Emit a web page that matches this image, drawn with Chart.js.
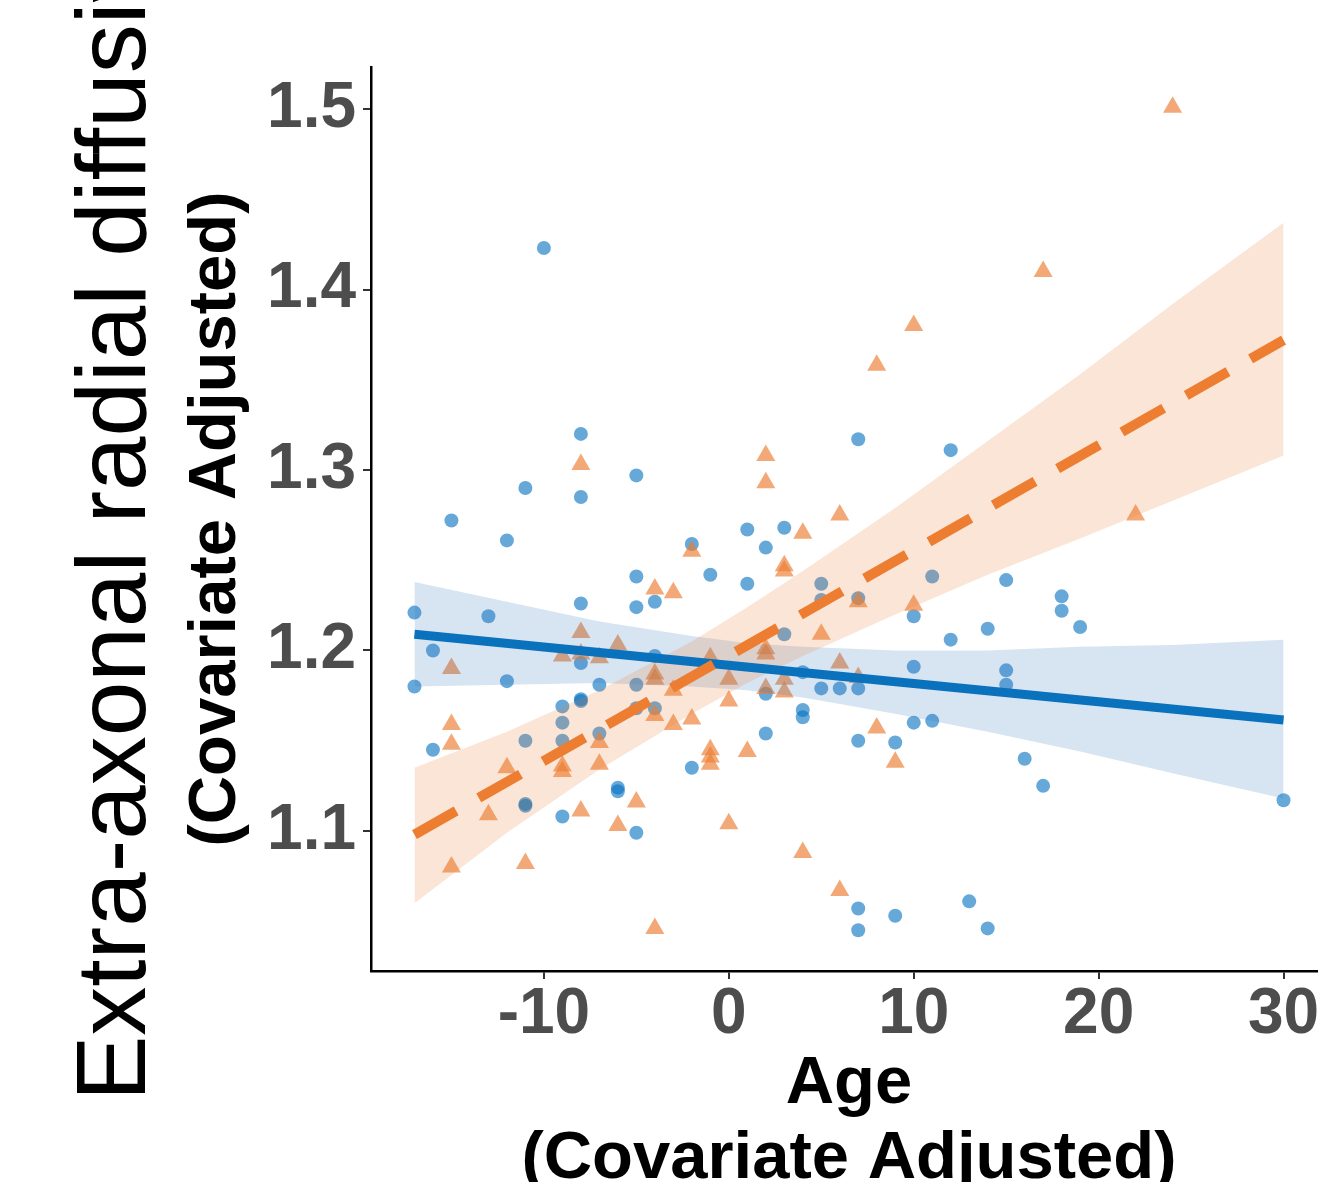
<!DOCTYPE html>
<html>
<head>
<meta charset="utf-8">
<script src="https://cdn.jsdelivr.net/npm/chart.js@4.4.1/dist/chart.umd.min.js"></script>
<style>
    html, body { margin: 0; padding: 0; background: #fff; overflow: hidden; }
    #wrap { position: relative; width: 1340px; height: 1240px; }
</style>
</head>
<body>
<div id="wrap"><canvas id="chart" width="1340" height="1240"></canvas></div>
<script>
// axis texts
const yTitleMain = 'Extra-axonal radial diffusivity';
const yTitleSub = '(Covariate Adjusted)';
const xTitle = [ 'Age', '(Covariate Adjusted)' ];

// ticks
const xTicks = [ -10, 0, 10, 20, 30 ];
const yTicks = [ 1.1, 1.2, 1.3, 1.4, 1.5 ];
const xMin = -19.35, xMax = 32.35;
const yMin = 1.0224, yMax = 1.5233;

// group 1 (blue circles)
const blueX = [ -17, -17, -16, -16, -15, -13, -12, -12, -11, -11, -11, -11, -10, -9, -9, -9, -9,
    -8, -8, -8, -8, -8, -8, -7, -7, -6, -6, -5, -5, -5, -5, -5, -5, -4, -4, -4, -2, -2, -1,
    1, 1, 2, 2, 2, 3, 3, 4, 4, 4, 5, 5, 5, 6, 7, 7, 7, 7, 7, 7, 9, 9, 10, 10, 10, 11, 11,
    12, 12, 13, 14, 14, 15, 15, 15, 16, 17, 18, 18, 19, 30 ];
const blueY = [ 1.221, 1.180, 1.200, 1.145, 1.272, 1.219, 1.261, 1.183, 1.290, 1.150, 1.115, 1.114, 1.423, 1.169, 1.160, 1.150, 1.108,
    1.320, 1.285, 1.226, 1.193, 1.173, 1.172, 1.181, 1.154, 1.124, 1.122, 1.297, 1.241, 1.224, 1.181, 1.168, 1.099, 1.227, 1.197, 1.168, 1.259, 1.135, 1.242,
    1.267, 1.237, 1.257, 1.176, 1.154, 1.268, 1.209, 1.188, 1.167, 1.163, 1.237, 1.228, 1.179, 1.179, 1.317, 1.229, 1.179, 1.150, 1.057, 1.045, 1.149, 1.053, 1.219, 1.191, 1.160, 1.241, 1.161,
    1.311, 1.206, 1.061, 1.212, 1.046, 1.239, 1.189, 1.181, 1.140, 1.125, 1.230, 1.222, 1.213, 1.117 ];

// group 2 (orange triangles)
const orangeX = [ -15, -15, -15, -15, -13, -12, -11, -9, -9, -9, -8, -8, -8, -8, -7, -7, -7, -6, -6, -5,
    -4, -4, -4, -4, -4, -3, -3, -3, -2, -2, -1, -1, -1, -1, 0, 0, 0, 1, 2, 2, 2, 2, 2, 3, 3, 3, 3,
    4, 4, 5, 6, 6, 6, 7, 7, 8, 8, 9, 10, 10, 17, 22, 24 ];
const orangeY = [ 1.190, 1.159, 1.148, 1.080, 1.109, 1.135, 1.082, 1.197, 1.136, 1.133, 1.303, 1.210, 1.198, 1.111, 1.196, 1.149, 1.137, 1.203, 1.103, 1.116,
    1.234, 1.187, 1.184, 1.164, 1.046, 1.232, 1.178, 1.159, 1.255, 1.162, 1.196, 1.145, 1.141, 1.137, 1.184, 1.172, 1.104, 1.144, 1.308, 1.293, 1.201, 1.198, 1.179, 1.247, 1.244, 1.184, 1.177,
    1.265, 1.088, 1.209, 1.275, 1.193, 1.067, 1.227, 1.185, 1.358, 1.157, 1.138, 1.380, 1.225, 1.410, 1.275, 1.501 ];

// fitted lines
const fitX = [ -17, 30 ];
const blueFit = [ 1.209, 1.1615 ];
const orangeFit = [ 1.098, 1.372 ];

// confidence bands
const bandX = [ -17, -12, -7, -2, 1, 4, 9, 14, 19, 24, 30 ];
const blueUpper = [ 1.238, 1.227, 1.216, 1.208, 1.204, 1.202, 1.200, 1.200, 1.202, 1.203, 1.206 ];
const blueLower = [ 1.180, 1.181, 1.182, 1.180, 1.178, 1.174, 1.165, 1.155, 1.144, 1.132, 1.118 ];
const orangeUpper = [ 1.135, 1.155, 1.178, 1.205, 1.224, 1.244, 1.279, 1.316, 1.353, 1.392, 1.437 ];
const orangeLower = [ 1.060, 1.099, 1.134, 1.165, 1.182, 1.197, 1.220, 1.242, 1.262, 1.283, 1.308 ];

const toPts = ( xs, ys ) => xs.map( ( x, i ) => ( { x: x, y: ys[ i ] } ) );

Chart.defaults.font.family = '"Liberation Sans", Arial, Helvetica, sans-serif';

// big left title, regular weight, drawn next to the bold axis title
const bigYTitle = {
    id: 'bigYTitle',
    afterDraw( chart )
    {
        const ctx = chart.ctx;
        ctx.save();
        ctx.translate( 145, 1101 );
        ctx.rotate( -Math.PI / 2 );
        ctx.font = '98px "Liberation Sans", Arial, Helvetica, sans-serif';
        ctx.fillStyle = '#000';
        ctx.textAlign = 'left';
        ctx.textBaseline = 'alphabetic';
        ctx.fillText( yTitleMain, 0, 0 );
        ctx.restore();
    }
};

const bandSet = ( xs, ys, fill, color, order ) => ( {
    data: toPts( xs, ys ),
    showLine: true,
    pointRadius: 0,
    borderWidth: 0,
    borderColor: 'rgba(0,0,0,0)',
    backgroundColor: color,
    fill: fill,
    order: order
} );

new Chart( document.getElementById( 'chart' ), {
    type: 'line',
    data: {
        datasets: [
            // 0 blue points
            {
                data: toPts( blueX, blueY ),
                showLine: false,
                pointStyle: 'circle',
                pointRadius: 7,
                pointBorderWidth: 0,
                pointBackgroundColor: 'rgba(0,112,192,0.6)',
                order: 10
            },
            // 1 orange points
            {
                data: toPts( orangeX, orangeY ),
                showLine: false,
                pointStyle: 'triangle',
                pointRadius: 11,
                pointBorderWidth: 0,
                pointBackgroundColor: 'rgba(237,125,49,0.66)',
                order: 9
            },
            // 2,3 blue band
            bandSet( bandX, blueUpper, false, 'rgba(54,120,190,0.2)', 8 ),
            bandSet( bandX, blueLower, 2, 'rgba(54,120,190,0.2)', 7 ),
            // 4,5 orange band
            bandSet( bandX, orangeUpper, false, 'rgba(237,125,49,0.2)', 6 ),
            bandSet( bandX, orangeLower, 4, 'rgba(237,125,49,0.2)', 5 ),
            // 6 blue fit
            {
                data: toPts( fitX, blueFit ),
                showLine: true,
                pointRadius: 0,
                borderWidth: 9,
                borderColor: '#0a72bd',
                borderCapStyle: 'butt',
                fill: false,
                order: 2
            },
            // 7 orange fit
            {
                data: toPts( fitX, orangeFit ),
                showLine: true,
                pointRadius: 0,
                borderWidth: 10,
                borderColor: '#ed7d31',
                borderDash: [ 48, 26 ],
                borderCapStyle: 'butt',
                fill: false,
                order: 1
            }
        ]
    },
    options: {
        responsive: false,
        animation: false,
        devicePixelRatio: 1,
        layout: { padding: { top: 67, right: 13, bottom: 0, left: 0 } },
        elements: { line: { tension: 0 } },
        plugins: {
            legend: { display: false },
            tooltip: { enabled: false }
        },
        scales: {
            x: {
                type: 'linear',
                min: xMin,
                max: xMax,
                afterBuildTicks: s => { s.ticks = xTicks.map( v => ( { value: v } ) ); },
                afterFit: s => { s.height = 269; },
                border: { display: true, color: '#000', width: 2.5 },
                grid: { display: true, drawOnChartArea: false, drawTicks: true, tickLength: 8, color: '#333', lineWidth: 2 },
                ticks: {
                    color: '#4d4d4d',
                    font: { size: 64, weight: 'bold', lineHeight: 1 },
                    padding: 4,
                    maxRotation: 0,
                    autoSkip: false,
                    callback: v => String( v )
                },
                title: {
                    display: true,
                    text: xTitle,
                    color: '#000',
                    font: { size: 67, weight: 'bold', lineHeight: 1.12 },
                    padding: { top: 0, bottom: 43 }
                }
            },
            y: {
                type: 'linear',
                min: yMin,
                max: yMax,
                afterBuildTicks: s => { s.ticks = yTicks.map( v => ( { value: v } ) ); },
                afterFit: s => { s.width = 371; },
                border: { display: true, color: '#000', width: 2.5 },
                grid: { display: true, drawOnChartArea: false, drawTicks: true, tickLength: 8, color: '#333', lineWidth: 2 },
                ticks: {
                    color: '#4d4d4d',
                    font: { size: 64, weight: 'bold', lineHeight: 1 },
                    padding: 7,
                    autoSkip: false,
                    callback: v => v.toFixed( 1 )
                },
                title: {
                    display: true,
                    text: yTitleSub,
                    color: '#000',
                    font: { size: 67, weight: 'bold', lineHeight: 1.12 },
                    padding: { top: 179, bottom: 0 }
                }
            }
        }
    },
    plugins: [ bigYTitle ]
} );
</script>
</body>
</html>
